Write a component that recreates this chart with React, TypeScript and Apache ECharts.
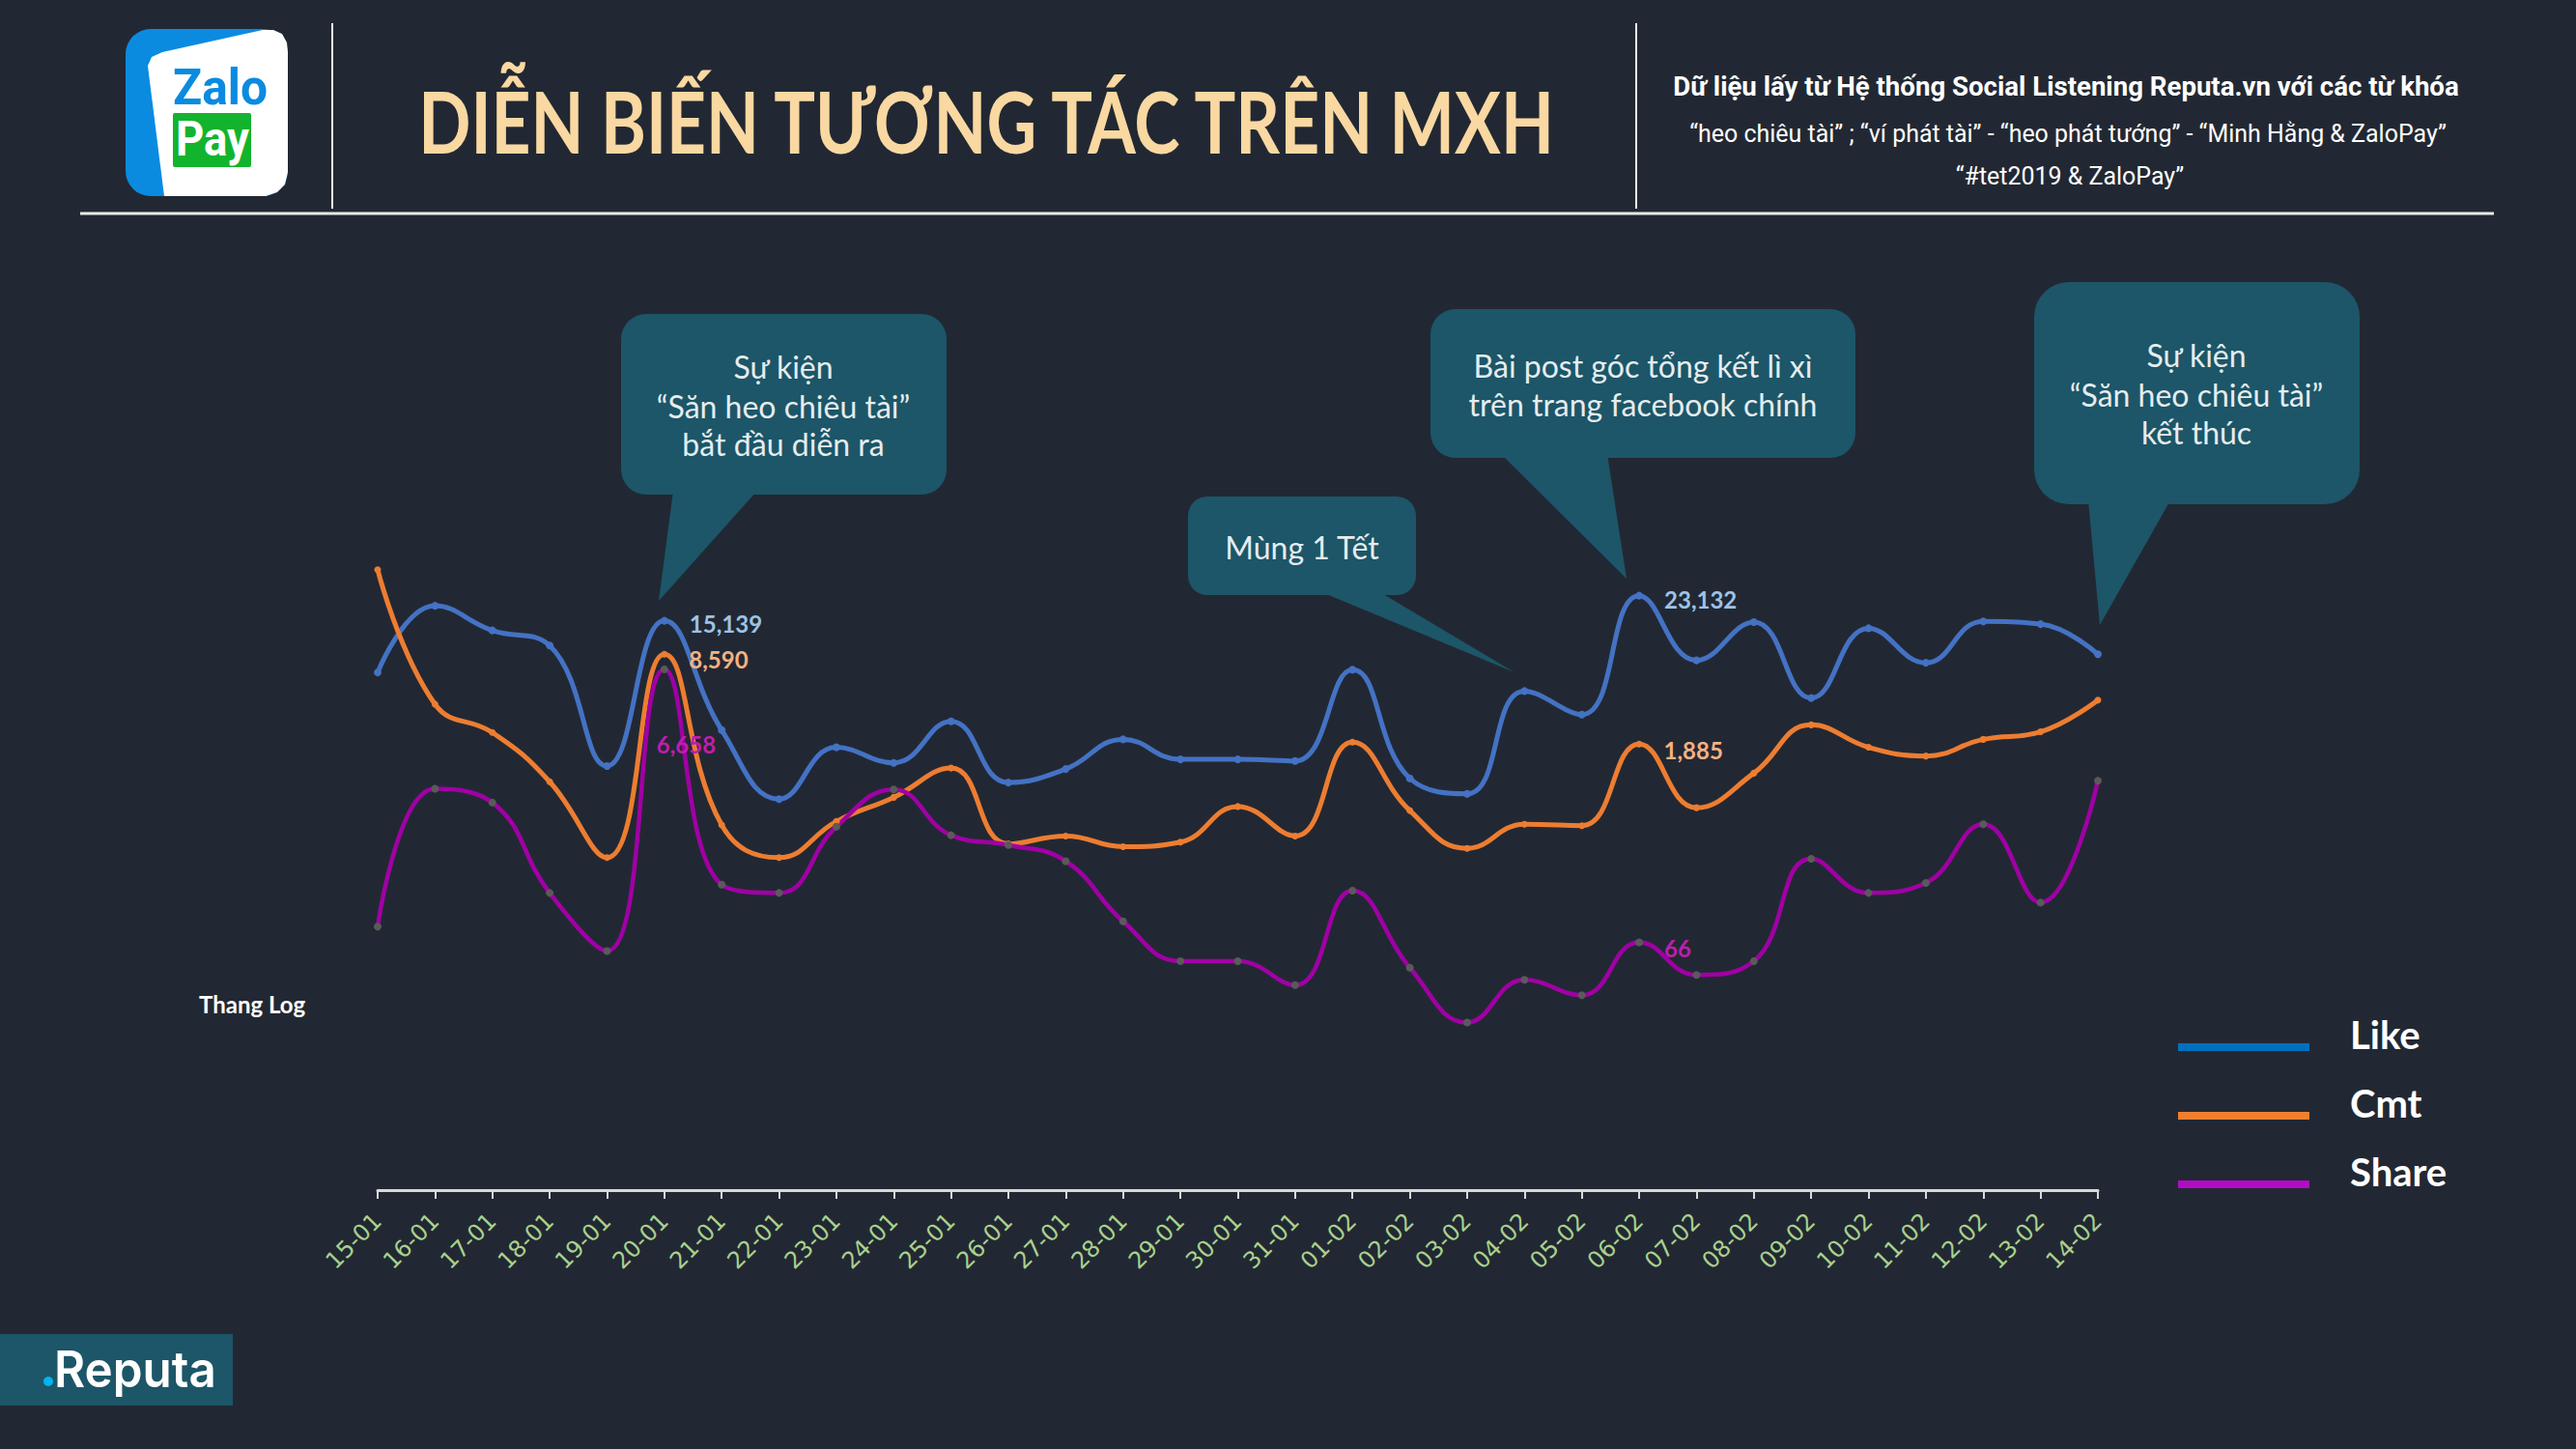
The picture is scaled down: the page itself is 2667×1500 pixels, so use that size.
import React, { useEffect, useRef } from 'react';
import * as echarts from 'echarts';

const categories = [
  '15-01', '16-01', '17-01', '18-01', '19-01', '20-01', '21-01', '22-01', '23-01', '24-01',
  '25-01', '26-01', '27-01', '28-01', '29-01', '30-01', '31-01', '01-02', '02-02', '03-02',
  '04-02', '05-02', '06-02', '07-02', '08-02', '09-02', '10-02', '11-02', '12-02', '13-02', '14-02',
];
const likeData = [6320, 19500, 12850, 9950, 1300, 15139, 2385, 743, 1783, 1371, 2762, 982, 1234, 2038, 1453, 1453, 1413, 6620, 1054, 811, 4613, 3100, 23132, 7750, 14800, 4100, 13330, 7440, 14970, 14300, 8600];
const cmtData = [35900, 3690, 2290, 995, 276, 8590, 480, 276, 509, 765, 1255, 348, 398, 332, 359, 655, 398, 1944, 612, 323, 485, 474, 1885, 642, 1151, 2605, 1783, 1538, 2038, 2316, 3963];
const shareData = [86, 885, 700, 152, 57, 6658, 175, 152, 466, 875, 403, 342, 260, 94, 48, 48, 32, 158, 43, 17, 35, 27, 66, 38, 48, 271, 152, 180, 485, 129, 1012];
const seriesNames = ['Like', 'Cmt', 'Share'];
const labeledIdx = [5, 22];

const BG = '#222833';
const TEAL = '#1C5668';
const NOTE = '#E6ECEF';

export default function App() {
  const ref = useRef<HTMLDivElement>(null);
  useEffect(() => {
    document.body.style.margin = '0';
    document.body.style.background = BG;
    const chart = echarts.init(ref.current as HTMLDivElement, null, { renderer: 'svg' });
    const cv = document.createElement('canvas').getContext('2d') as CanvasRenderingContext2D;
    const fit = (text: string, font: string, target: number) => {
      cv.font = font;
      const w = cv.measureText(text).width;
      return w > 0 ? target / w : 1;
    };
    const T = (text: string, x: number, y: number, size: number, weight: string, family: string, fill: string, opts: any = {}) => {
      const font = `${weight} ${size}px ${family}`;
      let scaleX = opts.scale || 1;
      if (opts.width) scaleX = fit(text, font, opts.width);
      const align = opts.align || 'center';
      return {
        type: 'text', x, y, scaleX, z: 20,
        style: { text, fill, font, fontSize: size, fontWeight: weight, fontFamily: family, textAlign: align, align, textVerticalAlign: 'middle', verticalAlign: 'middle' },
      };
    };
    const callout = (x: number, y: number, w: number, h: number, r: number, pts: number[][]) => [
      { type: 'rect', z: 5, shape: { x, y, width: w, height: h, r }, style: { fill: TEAL } },
      { type: 'polygon', z: 5, shape: { points: pts }, style: { fill: TEAL } },
    ];
    const line2Font = '400 25px Roboto';
    const line2Scale = fit('“heo chiêu tài” ; “ví phát tài” - “heo phát tướng” - “Minh Hằng & ZaloPay”', line2Font, 784);

    const graphic: any[] = [
      // Zalo Pay logo
      { type: 'rect', z: 5, shape: { x: 130, y: 30, width: 168, height: 173, r: 26 }, style: { fill: '#0A8BE0' } },
      { type: 'polygon', z: 6, shape: { points: [[153, 68], [157, 59], [168, 54], [272, 31], [283, 31], [292, 35], [297, 44], [298, 54], [298, 178], [295, 191], [287, 199], [275, 203], [170, 203]] }, style: { fill: '#FFFFFF' } },
      T('Zalo', 228, 90, 52, 'bold', 'Roboto', '#0A8BE0', { width: 98 }),
      { type: 'rect', z: 7, shape: { x: 179, y: 117, width: 81, height: 56, r: 2 }, style: { fill: '#12B42D' } },
      T('Pay', 220, 144, 50, 'bold', 'Roboto', '#FFFFFF', { width: 76 }),
      // separators
      { type: 'line', z: 5, shape: { x1: 344, y1: 24, x2: 344, y2: 216 }, style: { stroke: '#F0F0F0', lineWidth: 2 } },
      { type: 'line', z: 5, shape: { x1: 1694, y1: 24, x2: 1694, y2: 216 }, style: { stroke: '#F0F0F0', lineWidth: 2 } },
      { type: 'line', z: 5, shape: { x1: 83, y1: 221, x2: 2582, y2: 221 }, style: { stroke: '#E8E8E8', lineWidth: 3 } },
      // title
      T('DIỄN BIẾN TƯƠNG TÁC TRÊN MXH', 1021, 125, 88, 'bold', 'Lato', '#F9D8A2', { width: 1182 }),
      // header right
      T('Dữ liệu lấy từ Hệ thống Social Listening Reputa.vn với các từ khóa', 2139, 90, 27, 'bold', 'Roboto', '#FFFFFF', { width: 814 }),
      T('“heo chiêu tài” ; “ví phát tài” - “heo phát tướng” - “Minh Hằng & ZaloPay”', 2141, 138, 25, '400', 'Roboto', '#FFFFFF', { scale: line2Scale }),
      T('“#tet2019 & ZaloPay”', 2143, 182, 25, '400', 'Roboto', '#FFFFFF', { scale: line2Scale }),
      // callouts
      ...callout(643, 325, 337, 187, 26, [[697, 508], [784, 508], [682, 622]]),
      T('Sự kiện', 811, 379, 32, '400', 'Lato', NOTE),
      T('“Săn heo chiêu tài”', 811, 420, 32, '400', 'Lato', NOTE),
      T('bắt đầu diễn ra', 811, 459, 32, '400', 'Lato', NOTE),
      ...callout(1230, 514, 236, 102, 20, [[1366, 612], [1427, 612], [1568, 696]]),
      T('Mùng 1 Tết', 1348, 566, 32, '400', 'Lato', NOTE),
      ...callout(1481, 320, 440, 154, 26, [[1554, 470], [1664, 470], [1684, 599]]),
      T('Bài post góc tổng kết lì xì', 1701, 378, 32, '400', 'Lato', NOTE),
      T('trên trang facebook chính', 1701, 418, 32, '400', 'Lato', NOTE),
      ...callout(2106, 292, 337, 230, 36, [[2162, 518], [2247, 518], [2174, 647]]),
      T('Sự kiện', 2274, 367, 32, '400', 'Lato', NOTE),
      T('“Săn heo chiêu tài”', 2274, 408, 32, '400', 'Lato', NOTE),
      T('kết thúc', 2274, 447, 32, '400', 'Lato', NOTE),
      // axis note
      T('Thang Log', 206, 1039, 24, 'bold', 'Lato', '#FFFFFF', { align: 'left' }),
      // Reputa logo
      { type: 'rect', z: 5, shape: { x: 0, y: 1381, width: 241, height: 74 }, style: { fill: TEAL } },
      { type: 'circle', z: 21, shape: { cx: 50, cy: 1430, r: 5 }, style: { fill: '#00B4F0' } },
      T('Reputa', 56, 1417, 52, '600', 'Inter', '#FFFFFF', { align: 'left', width: 168 }),
    ];

    const labelCfg: any = {
      Like: { color: '#9DC3E6', offsets: { 5: [0, 3], 22: [0, 4] } },
      Cmt: { color: '#F4B183', offsets: { 5: [0, 5], 22: [0, 6] } },
      Share: { color: '#BE1EAE', offsets: { 5: [-34, 78], 22: [0, 6] } },
    };
    const mk = (name: string, data: number[], color: string, lw: number, symColor: string, symSize: number) => ({
      type: 'line',
      name,
      smooth: 0.45,
      symbol: 'circle',
      symbolSize: symSize,
      showSymbol: true,
      lineStyle: { color, width: lw },
      itemStyle: { color: symColor },
      emphasis: { disabled: true },
      data: data.map((v, i) =>
        labeledIdx.includes(i)
          ? {
              value: v,
              label: {
                show: true,
                position: 'right',
                distance: 22,
                offset: labelCfg[name].offsets[i],
                color: labelCfg[name].color,
                fontSize: 24,
                fontWeight: 'bold',
                fontFamily: 'Lato',
                formatter: (p: any) => Number(p.value).toLocaleString('en-US'),
              },
            }
          : v,
      ),
    });

    chart.setOption({
      animation: false,
      backgroundColor: BG,
      grid: { left: 391, right: 495, top: 527, bottom: 268 },
      legend: {
        orient: 'vertical',
        left: 2250,
        top: 1046,
        itemWidth: 136,
        itemHeight: 8,
        itemGap: 5,
        icon: 'rect',
        selectedMode: false,
        data: [
          { name: seriesNames[0], itemStyle: { color: '#0070C0' } },
          { name: seriesNames[1], itemStyle: { color: '#F08030' } },
          { name: seriesNames[2], itemStyle: { color: '#B10CC4' } },
        ],
        formatter: '{t|{name}}',
        textStyle: {
          color: '#FFFFFF', fontSize: 40, fontWeight: 'bold', fontFamily: 'Lato',
          rich: { t: { color: '#FFFFFF', fontSize: 40, fontWeight: 'bold', fontFamily: 'Lato', lineHeight: 40, padding: [0, 0, 26, 37] } },
        },
      },
      xAxis: {
        type: 'category',
        data: categories,
        boundaryGap: false,
        axisLine: { lineStyle: { color: '#D9D9D9', width: 3 } },
        axisTick: { show: true, interval: 0, length: 9, lineStyle: { color: '#D9D9D9', width: 2 } },
        axisLabel: { interval: 0, rotate: 45, color: '#A9D18E', fontSize: 24, fontFamily: 'DejaVu Sans', margin: 28 },
        splitLine: { show: false },
      },
      yAxis: {
        type: 'log',
        logBase: 10,
        min: 1,
        max: 100000,
        show: false,
        splitLine: { show: false },
      },
      series: [
        mk(seriesNames[0], likeData, '#4472C4', 5, '#4472C4', 8),
        mk(seriesNames[1], cmtData, '#ED7D31', 5, '#ED7D31', 7),
        mk(seriesNames[2], shareData, '#A000A5', 4.5, '#5A5A5A', 8),
      ],
      graphic,
    });
    return () => chart.dispose();
  }, []);
  return <div ref={ref} style={{ position: 'fixed', left: 0, top: 0, width: 2667, height: 1500, background: BG }} />;
}
